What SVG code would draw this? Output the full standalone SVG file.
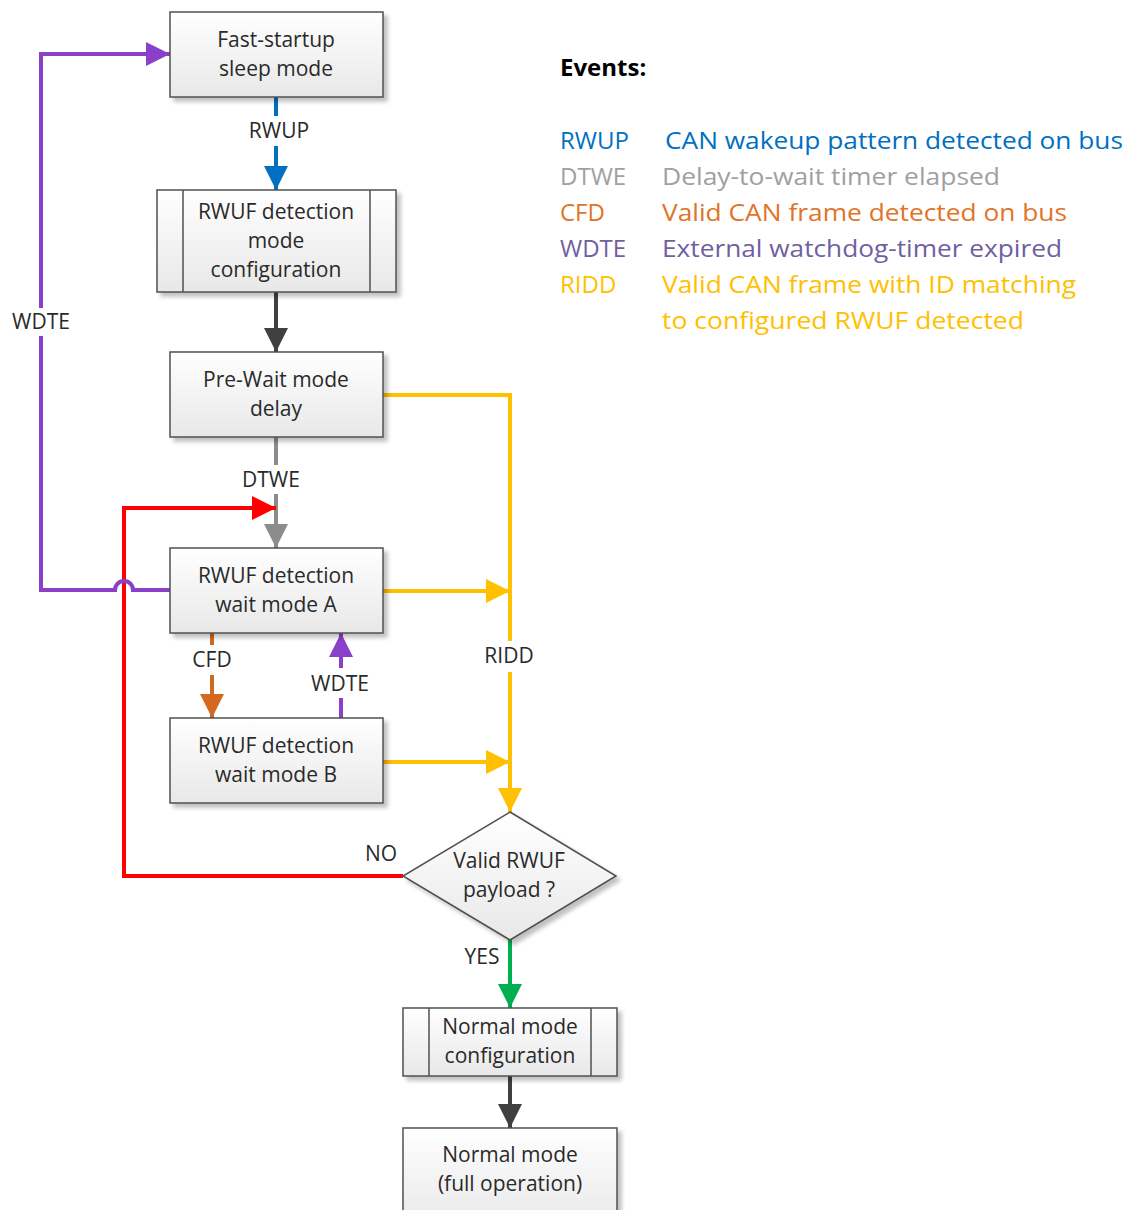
<svg xmlns="http://www.w3.org/2000/svg" width="1131" height="1210" viewBox="0 0 1131 1210">
  <defs>
    <linearGradient id="boxFill" x1="0" y1="0" x2="0" y2="1">
      <stop offset="0" stop-color="#ffffff"/>
      <stop offset="1" stop-color="#e8e8e8"/>
    </linearGradient>
    <filter id="shadow" x="-10%" y="-10%" width="125%" height="130%">
      <feGaussianBlur in="SourceAlpha" stdDeviation="2"/>
      <feOffset dx="4" dy="4" result="b"/>
      <feComponentTransfer><feFuncA type="linear" slope="0.25"/></feComponentTransfer>
      <feMerge><feMergeNode/><feMergeNode in="SourceGraphic"/></feMerge>
    </filter>
    <marker id="ahBlue" markerWidth="24" markerHeight="24" viewBox="0 0 24 24" refX="24" refY="12" orient="auto" markerUnits="userSpaceOnUse"><path d="M0,0 L24,12 L0,24 Z" fill="#0070c0"/></marker>
    <marker id="ahDark" markerWidth="24" markerHeight="24" viewBox="0 0 24 24" refX="24" refY="12" orient="auto" markerUnits="userSpaceOnUse"><path d="M0,0 L24,12 L0,24 Z" fill="#404040"/></marker>
    <marker id="ahGray" markerWidth="24" markerHeight="24" viewBox="0 0 24 24" refX="24" refY="12" orient="auto" markerUnits="userSpaceOnUse"><path d="M0,0 L24,12 L0,24 Z" fill="#8c8c8c"/></marker>
    <marker id="ahRed" markerWidth="24" markerHeight="24" viewBox="0 0 24 24" refX="24" refY="12" orient="auto" markerUnits="userSpaceOnUse"><path d="M0,0 L24,12 L0,24 Z" fill="#ff0000"/></marker>
    <marker id="ahPurple" markerWidth="24" markerHeight="24" viewBox="0 0 24 24" refX="24" refY="12" orient="auto" markerUnits="userSpaceOnUse"><path d="M0,0 L24,12 L0,24 Z" fill="#8a40c8"/></marker>
    <marker id="ahOrange" markerWidth="24" markerHeight="24" viewBox="0 0 24 24" refX="24" refY="12" orient="auto" markerUnits="userSpaceOnUse"><path d="M0,0 L24,12 L0,24 Z" fill="#d2691e"/></marker>
    <marker id="ahYellow" markerWidth="24" markerHeight="24" viewBox="0 0 24 24" refX="24" refY="12" orient="auto" markerUnits="userSpaceOnUse"><path d="M0,0 L24,12 L0,24 Z" fill="#ffc000"/></marker>
    <marker id="ahGreen" markerWidth="24" markerHeight="24" viewBox="0 0 24 24" refX="24" refY="12" orient="auto" markerUnits="userSpaceOnUse"><path d="M0,0 L24,12 L0,24 Z" fill="#00b050"/></marker>
  </defs>
  <style>
    .box { fill: url(#boxFill); stroke: #505050; stroke-width: 1.5; filter: url(#shadow); }
    .inner { stroke: #505050; stroke-width: 1.5; fill: none; }
    .lbl { font-family: "Open Sans", "Liberation Sans", sans-serif; font-size: 21px; fill: #2a2a2a; text-anchor: middle; }
    .edge { fill: none; stroke-width: 4; }
    .elbl { font-family: "Open Sans", "Liberation Sans", sans-serif; font-size: 21px; fill: #2a2a2a; text-anchor: middle; }
    .leg { font-family: "Open Sans", "Liberation Sans", sans-serif; font-size: 24px; }
  </style>
  <rect width="1131" height="1210" fill="#ffffff"/>

  <!-- connectors -->
  <g id="connectors">
    <!-- RWUP -->
    <path class="edge" stroke="#0070c0" d="M276,97 V116"/>
    <path class="edge" stroke="#0070c0" d="M276,146 V190" marker-end="url(#ahBlue)"/>
    <text class="elbl" x="279" y="138">RWUP</text>
    <!-- config -> pre-wait -->
    <path class="edge" stroke="#404040" d="M276,292 V352" marker-end="url(#ahDark)"/>
    <!-- DTWE -->
    <path class="edge" stroke="#8c8c8c" d="M276,437 V465"/>
    <path class="edge" stroke="#8c8c8c" d="M276,494 V548" marker-end="url(#ahGray)"/>
    <text class="elbl" x="271" y="487">DTWE</text>
    <!-- NO loop back to wait mode A -->
    <path class="edge" stroke="#ff0000" d="M403,876 H124 V508 H276" marker-end="url(#ahRed)"/>
    <text class="elbl" x="381" y="861">NO</text>
    <!-- WDTE back to sleep, hopping over the red line -->
    <path class="edge" stroke="#8a40c8" d="M170,590 H133 A9,9 0 0 0 115,590 H41 V54 H170" marker-end="url(#ahPurple)"/>
    <rect x="9" y="308" width="64" height="28" fill="#ffffff"/>
    <text class="elbl" x="41" y="329">WDTE</text>
    <!-- CFD -->
    <path class="edge" stroke="#d2691e" d="M212,633 V645"/>
    <path class="edge" stroke="#d2691e" d="M212,675 V718" marker-end="url(#ahOrange)"/>
    <text class="elbl" x="212" y="667">CFD</text>
    <!-- WDTE B -> A -->
    <path class="edge" stroke="#8a40c8" d="M341,718 V698"/>
    <path class="edge" stroke="#8a40c8" d="M341,668 V633" marker-end="url(#ahPurple)"/>
    <text class="elbl" x="340" y="691">WDTE</text>
    <!-- RIDD -->
    <path class="edge" stroke="#ffc000" d="M383,395 H510 V641"/>
    <path class="edge" stroke="#ffc000" d="M510,672 V812" marker-end="url(#ahYellow)"/>
    <path class="edge" stroke="#ffc000" d="M383,591 H510" marker-end="url(#ahYellow)"/>
    <path class="edge" stroke="#ffc000" d="M383,762 H510" marker-end="url(#ahYellow)"/>
    <text class="elbl" x="509" y="663">RIDD</text>
    <!-- YES -->
    <path class="edge" stroke="#00b050" d="M510,940 V1008" marker-end="url(#ahGreen)"/>
    <text class="elbl" x="482" y="964">YES</text>
    <!-- config -> normal -->
    <path class="edge" stroke="#404040" d="M510,1076 V1128" marker-end="url(#ahDark)"/>
  </g>

  <!-- nodes -->
  <g id="sleep">
    <rect class="box" x="170" y="12" width="213" height="85"/>
    <text class="lbl" x="276" y="47">Fast-startup</text>
    <text class="lbl" x="276" y="76">sleep mode</text>
  </g>
  <g id="rwuf-config">
    <rect class="box" x="157" y="190" width="239" height="102"/>
    <path class="inner" d="M183,190 V292 M370,190 V292"/>
    <text class="lbl" x="276" y="219">RWUF detection</text>
    <text class="lbl" x="276" y="248">mode</text>
    <text class="lbl" x="276" y="277">configuration</text>
  </g>
  <g id="prewait">
    <rect class="box" x="170" y="352" width="213" height="85"/>
    <text class="lbl" x="276" y="387">Pre-Wait mode</text>
    <text class="lbl" x="276" y="416">delay</text>
  </g>
  <g id="wait-a">
    <rect class="box" x="170" y="548" width="213" height="85"/>
    <text class="lbl" x="276" y="583">RWUF detection</text>
    <text class="lbl" x="276" y="612">wait mode A</text>
  </g>
  <g id="wait-b">
    <rect class="box" x="170" y="718" width="213" height="85"/>
    <text class="lbl" x="276" y="753">RWUF detection</text>
    <text class="lbl" x="276" y="782">wait mode B</text>
  </g>
  <g id="decision">
    <path class="box" d="M510,812 L616,876 L510,940 L403,876 Z"/>
    <text class="lbl" x="509" y="868">Valid RWUF</text>
    <text class="lbl" x="509" y="897">payload ?</text>
  </g>
  <g id="normal-config">
    <rect class="box" x="403" y="1008" width="214" height="68"/>
    <path class="inner" d="M429,1008 V1076 M591,1008 V1076"/>
    <text class="lbl" x="510" y="1034">Normal mode</text>
    <text class="lbl" x="510" y="1063">configuration</text>
  </g>
  <g id="normal">
    <rect class="box" x="403" y="1128" width="214" height="100"/>
    <text class="lbl" x="510" y="1162">Normal mode</text>
    <text class="lbl" x="510" y="1191">(full operation)</text>
  </g>

  <!-- legend -->
  <g id="legend">
    <text class="leg" x="560" y="76" font-weight="bold" fill="#000000">Events:</text>
    <text class="leg" x="560" y="149" fill="#0070c0">RWUP</text>
    <text class="leg" x="665" y="149" fill="#0070c0" textLength="458" lengthAdjust="spacingAndGlyphs">CAN wakeup pattern detected on bus</text>
    <text class="leg" x="560" y="185" fill="#a0a0a0">DTWE</text>
    <text class="leg" x="662" y="185" fill="#a0a0a0" textLength="338" lengthAdjust="spacingAndGlyphs">Delay-to-wait timer elapsed</text>
    <text class="leg" x="560" y="221" fill="#e07428">CFD</text>
    <text class="leg" x="662" y="221" fill="#e07428" textLength="405" lengthAdjust="spacingAndGlyphs">Valid CAN frame detected on bus</text>
    <text class="leg" x="560" y="257" fill="#7060a0">WDTE</text>
    <text class="leg" x="662" y="257" fill="#7060a0" textLength="400" lengthAdjust="spacingAndGlyphs">External watchdog-timer expired</text>
    <text class="leg" x="560" y="293" fill="#ffc000">RIDD</text>
    <text class="leg" x="662" y="293" fill="#ffc000" textLength="414" lengthAdjust="spacingAndGlyphs">Valid CAN frame with ID matching</text>
    <text class="leg" x="662" y="329" fill="#ffc000" textLength="362" lengthAdjust="spacingAndGlyphs">to configured RWUF detected</text>
  </g>
</svg>
